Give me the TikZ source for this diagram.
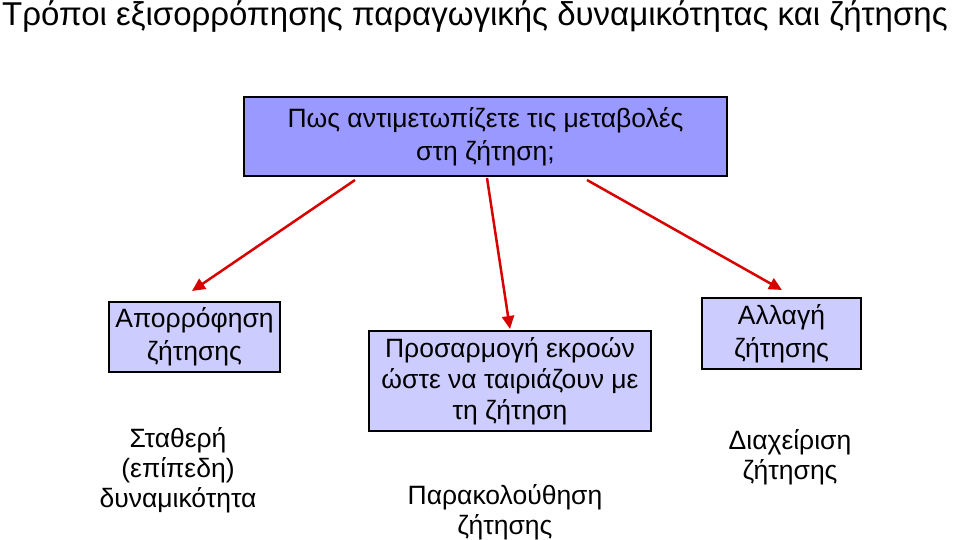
\documentclass[tikz,border=0pt]{standalone}
\usepackage{fontspec}
\setmainfont{Liberation Sans}
\usetikzlibrary{arrows.meta}
\begin{document}
\begin{tikzpicture}[x=1pt,y=-1pt,
 box/.style={draw=black,line width=1.2pt,align=center,font=\fontsize{26.5}{33}\selectfont,inner sep=0pt},
 txt/.style={align=center,font=\fontsize{26.5}{30}\selectfont,inner sep=0pt},
 arr/.style={draw=red!85!black,line width=2.5pt,-{Triangle[length=13pt,width=12pt]}}]
\useasboundingbox (0,0) rectangle (960,540);
\node[anchor=west,inner sep=0pt,font=\fontsize{33}{36}\selectfont] (title) at (2,16) {Τρόποι εξισορρόπησης παραγωγικής δυναμικότητας και ζήτησης};
\node[box,fill={rgb,255:red,153;green,153;blue,255},minimum width=483pt,minimum height=79pt] (top) at (485.5,136.5) {Πως αντιμετωπίζετε τις μεταβολές\\στη ζήτηση;};
\node[box,fill={rgb,255:red,204;green,204;blue,255},minimum width=171pt,minimum height=70pt] (left) at (194.5,337) {Απορρόφηση\\ζήτησης};
\node[box,fill={rgb,255:red,204;green,204;blue,255},minimum width=282pt,minimum height=100pt,font=\fontsize{26.5}{31}\selectfont] (mid) at (510,381) {Προσαρμογή εκροών\\ώστε να ταιριάζουν με\\τη ζήτηση};
\node[box,fill={rgb,255:red,204;green,204;blue,255},minimum width=159pt,minimum height=71pt] (right) at (781.5,333.5) {Αλλαγή\\ζήτησης};
\node[txt] (l2) at (178,470) {Σταθερή\\(επίπεδη)\\δυναμικότητα};
\node[txt] (m2) at (505,512) {Παρακολούθηση\\ζήτησης};
\node[txt] (r2) at (790,457) {Διαχείριση\\ζήτησης};
\coordinate (a1) at (355,180); \coordinate (b1) at (192,291);
\coordinate (a2) at (487,178); \coordinate (b2) at (510,329);
\coordinate (a3) at (587,180); \coordinate (b3) at (782,290);
\draw[arr] (a1) -- (b1);
\draw[arr] (a2) -- (b2);
\draw[arr] (a3) -- (b3);
\end{tikzpicture}
\end{document}
